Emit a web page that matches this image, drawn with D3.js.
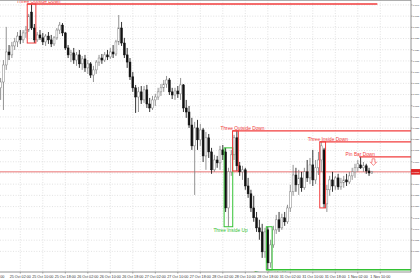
<!DOCTYPE html>
<html><head><meta charset="utf-8">
<script src="https://cdn.jsdelivr.net/npm/d3@7"></script>
<style>html,body{margin:0;padding:0;background:#fff;overflow:hidden}</style>
</head><body><svg id="c" width="420" height="280"></svg>
<script>
// H1 candles (array index 0 = first visible bar)
const open = [
1.10030,1.10056,1.10132,1.10190,1.10177,1.10217,1.10235,1.10261,1.10244,1.10275,
1.10288,1.10368,1.10297,1.10244,1.10266,1.10253,1.10235,1.10261,1.10244,1.10226,
1.10253,1.10288,1.10310,1.10275,1.10208,1.10177,1.10186,1.10154,1.10177,1.10137,
1.10159,1.10119,1.10137,1.10087,1.10110,1.10145,1.10163,1.10154,1.10177,1.10168,
1.10190,1.10181,1.10235,1.10297,1.10230,1.10177,1.10145,1.10079,1.10030,1.09989,
1.10012,1.09976,1.10021,1.09958,1.09940,1.09976,1.09989,1.10012,1.10030,1.10047,
1.10065,1.10012,1.09998,1.10016,1.10003,1.10043,1.09940,1.09922,1.09864,1.09771,
1.09851,1.09798,1.09842,1.09726,1.09807,1.09744,1.09664,1.09708,1.09695,1.09753,
1.09744,1.09494,1.09655,1.09731,1.09807,1.09682,1.09655,1.09664,1.09592,1.09557,
1.09494,1.09450,1.09405,1.09387,1.09298,1.09396,1.09249,1.09329,1.09396,1.09441,
1.09405,1.09450,1.09432,1.09494,1.09566,1.09641,1.09597,1.09628,1.09584,1.09655,
1.09628,1.09686,1.09619,1.09673,1.09708,1.09753,1.09512,1.09575,1.09619,1.09592,
1.09628,1.09588,1.09606,1.09619,1.09610,1.09637,1.09655,1.09673,1.09686,1.09673,
1.09682,1.09659,1.09650];
const high = [
1.10074,1.10154,1.10302,1.10221,1.10235,1.10253,1.10279,1.10288,1.10288,1.10306,
1.10360,1.10404,1.10315,1.10279,1.10288,1.10275,1.10270,1.10279,1.10266,1.10261,
1.10297,1.10324,1.10319,1.10279,1.10221,1.10199,1.10208,1.10190,1.10199,1.10172,
1.10177,1.10154,1.10145,1.10128,1.10154,1.10177,1.10181,1.10190,1.10199,1.10208,
1.10221,1.10244,1.10355,1.10324,1.10253,1.10208,1.10163,1.10101,1.10043,1.10034,
1.10038,1.10038,1.10043,1.09985,1.09994,1.10003,1.10030,1.10047,1.10065,1.10083,
1.10074,1.10030,1.10030,1.10038,1.10074,1.10047,1.09976,1.09949,1.09896,1.09878,
1.09887,1.09869,1.09851,1.09833,1.09824,1.09762,1.09731,1.09726,1.09771,1.09775,
1.09762,1.09673,1.09753,1.09820,1.09838,1.09699,1.09682,1.09673,1.09628,1.09575,
1.09548,1.09476,1.09441,1.09423,1.09405,1.09410,1.09352,1.09414,1.09463,1.09476,
1.09468,1.09476,1.09508,1.09597,1.09686,1.09673,1.09664,1.09655,1.09673,1.09708,
1.09717,1.09753,1.09708,1.09744,1.09789,1.09762,1.09597,1.09637,1.09655,1.09637,
1.09646,1.09628,1.09637,1.09646,1.09655,1.09673,1.09691,1.09708,1.09722,1.09699,
1.09691,1.09673,1.09659];
const low = [
1.09976,1.09931,1.10110,1.10154,1.10163,1.10199,1.10212,1.10226,1.10230,1.10253,
1.10279,1.10288,1.10230,1.10235,1.10244,1.10221,1.10217,1.10226,1.10212,1.10217,
1.10244,1.10270,1.10261,1.10199,1.10163,1.10145,1.10137,1.10128,1.10119,1.10110,
1.10101,1.10092,1.10074,1.10056,1.10092,1.10128,1.10137,1.10145,1.10154,1.10159,
1.10163,1.10172,1.10221,1.10217,1.10163,1.10119,1.10065,1.10012,1.09918,1.09922,
1.09958,1.09963,1.09940,1.09922,1.09931,1.09949,1.09976,1.09994,1.10012,1.10030,
1.09998,1.09980,1.09976,1.09985,1.09976,1.09922,1.09896,1.09851,1.09753,1.09552,
1.09753,1.09771,1.09699,1.09664,1.09717,1.09646,1.09655,1.09673,1.09664,1.09708,
1.09476,1.09410,1.09637,1.09708,1.09659,1.09637,1.09619,1.09575,1.09539,1.09476,
1.09432,1.09387,1.09352,1.09271,1.09271,1.09218,1.09227,1.09316,1.09378,1.09387,
1.09396,1.09414,1.09423,1.09476,1.09548,1.09566,1.09552,1.09566,1.09575,1.09610,
1.09601,1.09592,1.09601,1.09641,1.09655,1.09494,1.09476,1.09548,1.09566,1.09575,
1.09575,1.09575,1.09584,1.09592,1.09601,1.09619,1.09628,1.09655,1.09668,1.09655,
1.09646,1.09637,1.09646];
const close = [
1.10056,1.10132,1.10190,1.10177,1.10217,1.10235,1.10261,1.10244,1.10275,1.10288,
1.10351,1.10297,1.10244,1.10266,1.10253,1.10235,1.10261,1.10244,1.10226,1.10253,
1.10288,1.10310,1.10275,1.10208,1.10177,1.10186,1.10154,1.10177,1.10137,1.10159,
1.10119,1.10137,1.10087,1.10110,1.10145,1.10163,1.10154,1.10177,1.10168,1.10190,
1.10181,1.10235,1.10297,1.10230,1.10177,1.10145,1.10079,1.10030,1.09989,1.10012,
1.09976,1.10021,1.09958,1.09940,1.09976,1.09989,1.10012,1.10030,1.10047,1.10065,
1.10012,1.09998,1.10016,1.10003,1.10043,1.09940,1.09922,1.09864,1.09771,1.09851,
1.09798,1.09842,1.09726,1.09807,1.09744,1.09664,1.09708,1.09695,1.09753,1.09731,
1.09494,1.09655,1.09731,1.09807,1.09682,1.09655,1.09664,1.09592,1.09557,1.09494,
1.09450,1.09405,1.09387,1.09298,1.09387,1.09249,1.09329,1.09396,1.09441,1.09405,
1.09450,1.09432,1.09494,1.09566,1.09641,1.09597,1.09628,1.09584,1.09655,1.09628,
1.09686,1.09619,1.09673,1.09708,1.09771,1.09512,1.09575,1.09619,1.09592,1.09628,
1.09588,1.09606,1.09619,1.09610,1.09637,1.09655,1.09673,1.09691,1.09673,1.09682,
1.09659,1.09650,1.09655];

const timeLabels = ["24 Oct 18:00","25 Oct 02:00","25 Oct 10:00","25 Oct 18:00","26 Oct 02:00","26 Oct 10:00",
  "26 Oct 18:00","27 Oct 02:00","27 Oct 10:00","27 Oct 18:00","28 Oct 02:00","28 Oct 10:00",
  "28 Oct 18:00","31 Oct 02:00","31 Oct 10:00","31 Oct 18:00","1 Nov 02:00","1 Nov 10:00"];
const timeLabelBars = [-1,7,15,23,31,39,47,55,63,71,79,87,95,103,111,119,127,135];
const priceTicks = [1.1040,1.1035,1.1030,1.1025,1.1020,1.1015,1.1010,1.1005,1.1000,1.0995,1.0990,1.0985,
  1.0980,1.0975,1.0970,1.0965,1.0960,1.0955,1.0950,1.0945,1.0940,1.0935,1.0930];

const patternNames = ["Three Outside Down","Three Inside Up","Three Outside Down","Three Inside Up","Three Inside Down","Pin Bar Down"];
const patternStart = [10,80,83,95,114,128];
const patternEnd   = [12,82,84,96,115,128];
const patternDir   = ["down","up","down","up","down","down"];
const patternLevel = ["top","none","top","bottom","top","top"];

const plotR = 411, plotB = 272;
const FONT = "Liberation Sans, Arial, sans-serif";
const svg = d3.select('#c');
const x = d3.scaleLinear().domain([-1,135]).range([-2.2,380.3]);
const y = d3.scaleLinear().domain([1.09208,1.10422]).range([plotB,0]);
const last = close.length - 1;
const RED = "#f23c3c", GREEN = "#33c233";

svg.append("rect").attr("width",420).attr("height",280).attr("fill","#fff");
svg.append("defs").append("clipPath").attr("id","pc").append("rect")
  .attr("x",0).attr("y",0).attr("width",plotR).attr("height",plotB);

const plot = svg.append("g").attr("clip-path","url(#pc)");

// grid
plot.selectAll("line.hg").data(priceTicks).join("line").attr("class","hg")
  .attr("x1",0).attr("x2",plotR).attr("y1",d=>y(d)).attr("y2",d=>y(d))
  .attr("stroke","#cfcfcf").attr("stroke-width",0.6).attr("stroke-dasharray","1,1.6");
plot.selectAll("line.vg").data(timeLabelBars).join("line").attr("class","vg")
  .attr("x1",d=>x(d)).attr("x2",d=>x(d)).attr("y1",0).attr("y2",plotB)
  .attr("stroke","#cfcfcf").attr("stroke-width",0.6).attr("stroke-dasharray","1,1.6");

// current price line
const yc = y(close[last]);
plot.append("line").attr("x1",0).attr("x2",plotR).attr("y1",yc).attr("y2",yc)
  .attr("stroke","#e86464").attr("stroke-width",0.9);

// candles
const bars = d3.range(open.length);
plot.selectAll("line.wick").data(bars).join("line").attr("class","wick")
  .attr("x1",i=>x(i)).attr("x2",i=>x(i)).attr("y1",i=>y(high[i])).attr("y2",i=>y(low[i]))
  .attr("stroke",i=>close[i]>=open[i]?"#808080":"#111").attr("stroke-width",0.85);
plot.selectAll("rect.body").data(bars).join("rect").attr("class","body")
  .attr("x",i=>x(i)-0.95).attr("width",1.9)
  .attr("y",i=>y(Math.max(open[i],close[i])))
  .attr("height",i=>Math.max(0.6,Math.abs(y(open[i])-y(close[i]))))
  .attr("fill",i=>close[i]>=open[i]?"#fff":"#111")
  .attr("stroke",i=>close[i]>=open[i]?"#808080":"#111").attr("stroke-width",0.5);

// patterns
patternNames.forEach((name,k)=>{
  const s = patternStart[k], e = patternEnd[k];
  const hi = d3.max(d3.range(s,e+1),i=>high[i]);
  const lo = d3.min(d3.range(s,e+1),i=>low[i]);
  const col = patternDir[k]==="up"?GREEN:RED;
  const x0 = x(s)-1.5, x1 = x(e)+1.5, cx = (x(s)+x(e))/2;
  if(name!=="Pin Bar Down"){
    plot.append("rect").attr("x",x0).attr("y",y(hi)).attr("width",x1-x0).attr("height",y(lo)-y(hi))
      .attr("fill","none").attr("stroke",col).attr("stroke-width",1);
  }
  if(patternLevel[k]!=="none"){
    const lv = patternLevel[k]==="top"?hi:lo;
    const xe = k===0 ? x(last)+5.5 : plotR;
    plot.append("line").attr("x1",x0).attr("x2",xe).attr("y1",y(lv)).attr("y2",y(lv))
      .attr("stroke",col).attr("stroke-width",1.4);
  }
  const ty = patternDir[k]==="up" ? y(lo)+5 : y(hi)-1.3;
  plot.append("text").attr("x",cx-15).attr("y",ty).text(name)
    .attr("font-family",FONT).attr("font-size",4.8).attr("fill",col);
  if(name==="Pin Bar Down"){
    const ax = x(last)+1.6, ay = y(hi)+2;
    const p = `M${ax-1.4},${ay} L${ax+1.4},${ay} L${ax+1.4},${ay+3.4} L${ax+3},${ay+3.4} L${ax},${ay+6.6} L${ax-3},${ay+3.4} L${ax-1.4},${ay+3.4} Z`;
    plot.append("path").attr("d",p).attr("fill","#fff").attr("stroke",RED).attr("stroke-width",0.6);
  }
});

// frame & axes
svg.append("line").attr("x1",0).attr("x2",plotR).attr("y1",0.5).attr("y2",0.5).attr("stroke","#999").attr("stroke-width",0.8);
svg.append("line").attr("x1",plotR).attr("x2",plotR).attr("y1",0).attr("y2",plotB).attr("stroke","#777").attr("stroke-width",0.8);
svg.append("line").attr("x1",0).attr("x2",plotR).attr("y1",plotB).attr("y2",plotB).attr("stroke","#777").attr("stroke-width",0.8);

svg.selectAll("line.yt").data(priceTicks).join("line").attr("class","yt")
  .attr("x1",plotR).attr("x2",plotR+1.4).attr("y1",d=>y(d)).attr("y2",d=>y(d)).attr("stroke","#777").attr("stroke-width",0.6);
svg.selectAll("text.yl").data(priceTicks).join("text").attr("class","yl")
  .attr("x",plotR+1.8).attr("y",d=>y(d)+0.8).text(d=>d.toFixed(4))
  .attr("font-family",FONT).attr("font-size",2.1).attr("fill","#333");

svg.selectAll("line.xt").data(timeLabelBars).join("line").attr("class","xt")
  .attr("x1",d=>x(d)).attr("x2",d=>x(d)).attr("y1",plotB).attr("y2",plotB+1.6).attr("stroke","#777").attr("stroke-width",0.6);
svg.selectAll("text.xl").data(timeLabelBars.slice(1)).join("text").attr("class","xl")
  .attr("x",d=>x(d)).attr("y",277.6).attr("text-anchor","middle").text((d,i)=>timeLabels[i+1])
  .attr("font-family",FONT).attr("font-size",3.7).attr("fill","#333");
// first (mostly hidden) time label, only its tail is visible at the left edge
svg.append("text").attr("x",0.3).attr("y",277.6).text(timeLabels[0].slice(-2))
  .attr("font-family",FONT).attr("font-size",3.7).attr("fill","#333");

// current price tag
svg.append("rect").attr("x",plotR).attr("y",yc-2.8).attr("width",9).attr("height",5.6).attr("fill","#e02828");
svg.append("text").attr("x",plotR+0.8).attr("y",yc+0.8).text(close[last].toFixed(5))
  .attr("font-family",FONT).attr("font-size",2.1).attr("fill","#fff");
</script></body></html>
